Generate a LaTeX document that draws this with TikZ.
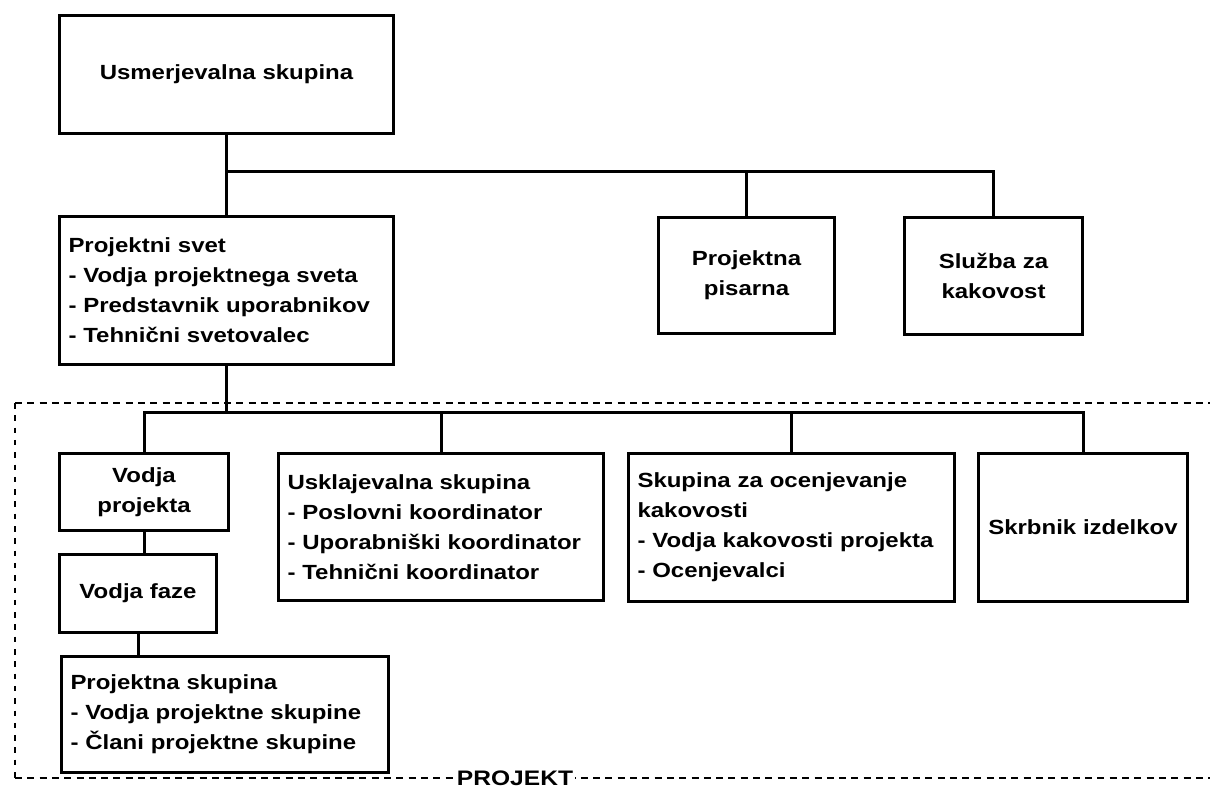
\documentclass[tikz,border=0pt]{standalone}
\usepackage{fontspec}
\newfontfamily\lbl{Liberation Sans}[FakeStretch=1.17]
\begin{document}
\begin{tikzpicture}[x=1pt,y=-1pt,
  box/.style={draw, line width=3pt, anchor=north west, inner xsep=9pt, inner ysep=0pt,
    font=\lbl\bfseries\fontsize{20.5}{30}\selectfont},
  lbox/.style={box, align=left},
  cbox/.style={box, align=center},
  conn/.style={line width=3pt},
  frame/.style={line width=2.2pt, dash pattern=on 7pt off 5.3pt},
  vframe/.style={line width=2.2pt, dash pattern=on 5.5pt off 6.8pt}]
\useasboundingbox (0,0) rectangle (1210,789);
\fill[white] (0,0) rectangle (1210,789);

% dashed project frame
\coordinate (ftl) at (15,403);
\coordinate (fbl) at (15,778);
\coordinate (ftr) at (1210,403);
\coordinate (fbr) at (1210,778);
\draw[frame] (ftl) -- (ftr);
\draw[vframe] (ftl) -- (fbl);
\draw[frame] (fbl) -- (fbr);
\node[fill=white, inner xsep=1.5pt, inner ysep=1pt, font=\lbl\bfseries\fontsize{21}{24}\selectfont] (proj) at (515,778) {PROJEKT};

% boxes
\node[cbox, minimum width=334, minimum height=118, text width=316] (us) at (58,14) {Usmerjevalna skupina};
\node[lbox, minimum width=334, minimum height=148, text width=316] (ps) at (58,215) {Projektni svet\\- Vodja projektnega sveta\\- Predstavnik uporabnikov\\- Tehnični svetovalec};
\node[cbox, minimum width=176, minimum height=116, text width=158] (pp) at (657,216) {Projektna\\pisarna};
\node[cbox, minimum width=178, minimum height=117, text width=160] (sk) at (903,216) {Služba za\\kakovost};

\node[cbox, minimum width=169, minimum height=77, text width=151] (vp) at (58,452) {Vodja\\projekta};
\node[cbox, minimum width=157, minimum height=78, text width=139] (vf) at (58,553) {Vodja faze};
\node[lbox, minimum width=327, minimum height=116, text width=309] (pskup) at (60,655) {Projektna skupina\\- Vodja projektne skupine\\- Člani projektne skupine};
\node[lbox, minimum width=325, minimum height=147, text width=307] (usk) at (277,452) {Usklajevalna skupina\\- Poslovni koordinator\\- Uporabniški koordinator\\- Tehnični koordinator};
\node[lbox, minimum width=326, minimum height=148, text width=308] (sko) at (627,452) {Skupina za ocenjevanje\\kakovosti\\- Vodja kakovosti projekta\\- Ocenjevalci};
\node[cbox, minimum width=209, minimum height=148, text width=191] (skr) at (977,452) {Skrbnik izdelkov};

% upper connectors
\coordinate (b1) at (225,171);
\draw[conn] (us.south) -- (ps.north);
\draw[conn] (b1) -| (sk.north);
\draw[conn] (pp.north) -- (pp.north |- b1);

% lower connectors
\coordinate (b2) at (142.5,412);
\draw[conn] (ps.south) -- (ps.south |- b2);
\draw[conn] (vp.north) |- (skr.north |- b2) -- (skr.north);
\draw[conn] (usk.north) -- (usk.north |- b2);
\draw[conn] (sko.north) -- (sko.north |- b2);
\draw[conn] (vp.south) -- (vp.south |- vf.north);
\draw[conn] (vf.south) -- (vf.south |- pskup.north);
\end{tikzpicture}
\end{document}
